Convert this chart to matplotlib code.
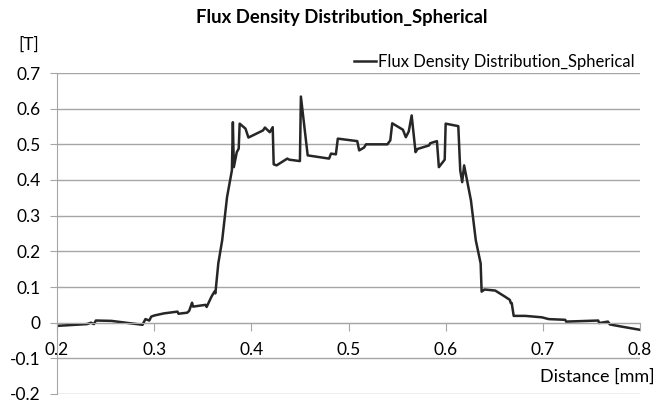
"""Flux density distribution (Spherical) - line chart"""

import matplotlib
matplotlib.use('Agg')
import matplotlib.pyplot as plt

# 거리 [mm]
distance = [0.200, 0.231, 0.235, 0.238, 0.240, 0.256, 0.288, 0.291, 0.295, 0.297,
            0.300, 0.310, 0.324, 0.325, 0.334, 0.336, 0.339, 0.340, 0.353, 0.354,
            0.359, 0.362, 0.363, 0.366, 0.370, 0.375, 0.380, 0.381, 0.382, 0.385,
            0.387, 0.388, 0.394, 0.397, 0.412, 0.414, 0.419, 0.422, 0.423, 0.426,
            0.437, 0.439, 0.450, 0.451, 0.458, 0.480, 0.482, 0.487, 0.489, 0.509,
            0.511, 0.516, 0.518, 0.540, 0.543, 0.545, 0.556, 0.559, 0.562, 0.565,
            0.569, 0.571, 0.583, 0.584, 0.591, 0.593, 0.599, 0.600, 0.613, 0.615,
            0.617, 0.619, 0.626, 0.631, 0.636, 0.637, 0.640, 0.651, 0.661, 0.666,
            0.667, 0.668, 0.670, 0.682, 0.699, 0.706, 0.723, 0.724, 0.757, 0.758,
            0.767, 0.769, 0.781, 0.800]
# 자속 밀도 [T]
flux = [-0.009, -0.004, 0.000, -0.004, 0.006, 0.005, -0.006, 0.010, 0.006, 0.017,
        0.020, 0.026, 0.031, 0.025, 0.028, 0.033, 0.056, 0.045, 0.050, 0.044,
        0.073, 0.087, 0.082, 0.166, 0.231, 0.352, 0.427, 0.562, 0.436, 0.478,
        0.488, 0.558, 0.544, 0.519, 0.539, 0.547, 0.534, 0.548, 0.444, 0.441,
        0.460, 0.457, 0.453, 0.634, 0.469, 0.460, 0.474, 0.472, 0.516, 0.509,
        0.483, 0.491, 0.500, 0.500, 0.511, 0.559, 0.541, 0.520, 0.536, 0.581,
        0.478, 0.487, 0.497, 0.503, 0.509, 0.436, 0.457, 0.558, 0.551, 0.427,
        0.394, 0.441, 0.343, 0.231, 0.166, 0.087, 0.093, 0.090, 0.073, 0.064,
        0.055, 0.055, 0.019, 0.019, 0.015, 0.010, 0.008, 0.003, 0.006, -0.001,
        0.003, -0.005, -0.011, -0.020]

x_ticks = [0.2, 0.3, 0.4, 0.5, 0.6, 0.7, 0.8]
y_ticks = [-0.2, -0.1, 0, 0.1, 0.2, 0.3, 0.4, 0.5, 0.6, 0.7]

plt.rcParams['font.family'] = ['Lato', 'DejaVu Sans']

W, H = 670, 403
fig = plt.figure(figsize=(W / 100, H / 100), dpi=100)
ax = fig.add_axes([57 / W, 1 - 394 / H, (640 - 57) / W, (394 - 73) / H])

grid_c = '#a6a6a6'
ax.plot(distance, flux, color='#262626', linewidth=1.8,
        label='Flux Density Distribution_Spherical')

ax.set_xlim(0.2, 0.8)
ax.set_ylim(-0.2, 0.7)
ax.set_xticks(x_ticks)
ax.set_xticklabels([f"{v:g}" for v in x_ticks])
ax.set_yticks(y_ticks)
ax.set_yticklabels([f"{v:g}" for v in y_ticks])

ax.grid(axis='y', color=grid_c, linewidth=1.0)
ax.set_axisbelow(True)
for s in ['top', 'right']:
    ax.spines[s].set_visible(False)
ax.spines['bottom'].set_position(('data', 0))
ax.spines['bottom'].set_color(grid_c)
ax.spines['left'].set_color(grid_c)
ax.tick_params(axis='y', colors=grid_c, labelcolor='black', length=5,
               labelsize=12.5, pad=7)
ax.tick_params(axis='x', colors=grid_c, labelcolor='black', length=6,
               labelsize=12.5, pad=8)

fig.text(342 / W, 1 - 17 / H, 'Flux Density Distribution_Spherical',
         ha='center', va='center', fontsize=13.3, fontweight='bold')
fig.text(18 / W, 1 - 45 / H, '[T]', ha='left', va='center', fontsize=12.5)
fig.text(655 / W, 1 - 377 / H, 'Distance [mm]', ha='right', va='center',
         fontsize=13)

ax.legend(loc='upper right', bbox_to_anchor=(643 / W, 1 - 46 / H),
          bbox_transform=fig.transFigure, frameon=False, fontsize=12,
          handlelength=1.3, handletextpad=0.15, borderpad=0)

fig.savefig('out.png', dpi=100)
